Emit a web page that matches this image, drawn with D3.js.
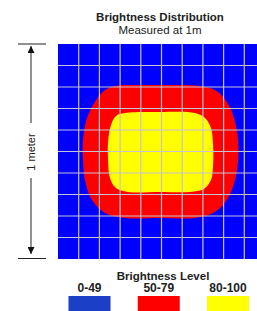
<!DOCTYPE html>
<html>
<head>
<meta charset="utf-8">
<script src="https://cdn.jsdelivr.net/npm/d3@7"></script>
<style>
	html, body { margin: 0; padding: 0; background: #fff; overflow: hidden; }
	svg { display: block; font-family: "Liberation Sans", Arial, sans-serif; }
</style>
</head>
<body>
<div id="chart"></div>
<script>
/*=================================
	DATA
**===============================*/

//Grid cells along each side (each cell = 0.1 m)
var gridTicks = [1, 2, 3, 4, 5, 6, 7, 8, 9];

//Boundary of the 50-79 zone, in meters from top-left corner [x, y]
var redZone = [
	[0.275, 0.195], [0.396, 0.191], [0.541, 0.191], [0.686, 0.195], [0.758, 0.214],
	[0.816, 0.270], [0.850, 0.344], [0.870, 0.447], [0.870, 0.540], [0.855, 0.633],
	[0.821, 0.716], [0.758, 0.781], [0.662, 0.809], [0.493, 0.809], [0.324, 0.809],
	[0.227, 0.786], [0.164, 0.726], [0.130, 0.633], [0.121, 0.540], [0.121, 0.447],
	[0.140, 0.344], [0.184, 0.260], [0.227, 0.214]
];

//Boundary of the 80-100 zone
var yellowZone = [
	[0.324, 0.321], [0.493, 0.316], [0.662, 0.321], [0.710, 0.344], [0.739, 0.391],
	[0.749, 0.470], [0.749, 0.563], [0.739, 0.633], [0.705, 0.674], [0.638, 0.688],
	[0.493, 0.688], [0.338, 0.688], [0.280, 0.670], [0.251, 0.623], [0.242, 0.540],
	[0.242, 0.456], [0.256, 0.377], [0.280, 0.335]
];

//Legend
var levels = ["0-49", "50-79", "80-100"];
var levelColors = ["#1c3fc8", "#ff0000", "#ffff00"];

/*=================================
	SETUP
**===============================*/

var width = 257,
	height = 311;

var plot = { left: 58, top: 44, w: 207, h: 215 };

var svg = d3.select("#chart").append("svg")
	.attr("width", width)
	.attr("height", height);

var x = d3.scaleLinear().domain([0, 1]).range([plot.left, plot.left + plot.w]);
var y = d3.scaleLinear().domain([0, 1]).range([plot.top, plot.top + plot.h]);

//Titles
svg.append("text")
	.attr("x", 160).attr("y", 21)
	.attr("text-anchor", "middle")
	.style("font-size", "11.5px").style("font-weight", "bold").style("fill", "#222")
	.text("Brightness Distribution");

svg.append("text")
	.attr("x", 160).attr("y", 34)
	.attr("text-anchor", "middle")
	.style("font-size", "11.5px").style("fill", "#222")
	.text("Measured at 1m");

/*=================================
	HEAT ZONES
**===============================*/

svg.append("rect")
	.attr("x", x(0)).attr("y", y(0))
	.attr("width", x(1) - x(0)).attr("height", y(1) - y(0))
	.attr("fill", "#0000ff");

var zoneLine = d3.line()
	.x(function(d) { return x(d[0]); })
	.y(function(d) { return y(d[1]); })
	.curve(d3.curveCatmullRomClosed.alpha(0.5));

svg.append("path").attr("d", zoneLine(redZone)).attr("fill", "#ff0000");
svg.append("path").attr("d", zoneLine(yellowZone)).attr("fill", "#ffff00");

//Grid
var grid = svg.append("g")
	.attr("stroke", "#c4c4d4")
	.attr("stroke-width", 1.2);

grid.selectAll(".gx").data(gridTicks).enter().append("line")
	.attr("x1", function(d) { return x(d / 10); })
	.attr("x2", function(d) { return x(d / 10); })
	.attr("y1", y(0)).attr("y2", y(1));

grid.selectAll(".gy").data(gridTicks).enter().append("line")
	.attr("y1", function(d) { return y(d / 10); })
	.attr("y2", function(d) { return y(d / 10); })
	.attr("x1", x(0)).attr("x2", x(1));

/*=================================
	1 METER SCALE
**===============================*/

var ax = 31;

svg.append("defs").append("marker")
	.attr("id", "arrow")
	.attr("viewBox", "0 0 10 10")
	.attr("refX", 10).attr("refY", 5)
	.attr("markerWidth", 7).attr("markerHeight", 7)
	.attr("markerUnits", "userSpaceOnUse")
	.attr("orient", "auto")
	.append("path").attr("d", "M0,0L10,5L0,10Z").attr("fill", "#111");

var meter = svg.append("g").attr("stroke", "#222").attr("stroke-width", 1);

meter.append("line").attr("x1", 18).attr("x2", 46).attr("y1", y(0)).attr("y2", y(0));
meter.append("line").attr("x1", 18).attr("x2", 46).attr("y1", y(1) - 0.5).attr("y2", y(1) - 0.5);

meter.append("line")
	.attr("x1", ax).attr("x2", ax)
	.attr("y1", 123).attr("y2", y(0) + 2)
	.attr("marker-end", "url(#arrow)");

meter.append("line")
	.attr("x1", ax).attr("x2", ax)
	.attr("y1", 178).attr("y2", y(1) - 5)
	.attr("marker-end", "url(#arrow)");

svg.append("text")
	.attr("transform", "translate(" + (ax + 4) + "," + 152 + ") rotate(-90)")
	.attr("text-anchor", "middle")
	.style("font-size", "11px").style("fill", "#222")
	.text("1 meter");

/*=================================
	LEGEND
**===============================*/

svg.append("text")
	.attr("x", 163).attr("y", 280)
	.attr("text-anchor", "middle")
	.style("font-size", "11.5px").style("font-weight", "bold").style("fill", "#222")
	.text("Brightness Level");

var lx = d3.scalePoint().domain(levels).range([89.5, 228]);

var legend = svg.selectAll(".lev").data(levels).enter().append("g")
	.attr("transform", function(d) { return "translate(" + lx(d) + ",0)"; });

legend.append("text")
	.attr("y", 292)
	.attr("text-anchor", "middle")
	.style("font-size", "12px").style("font-weight", "bold").style("fill", "#222")
	.text(function(d) { return d; });

legend.append("rect")
	.attr("x", -21).attr("y", 296)
	.attr("width", 42).attr("height", 20)
	.attr("fill", function(d, i) { return levelColors[i]; });
</script>
</body>
</html>
